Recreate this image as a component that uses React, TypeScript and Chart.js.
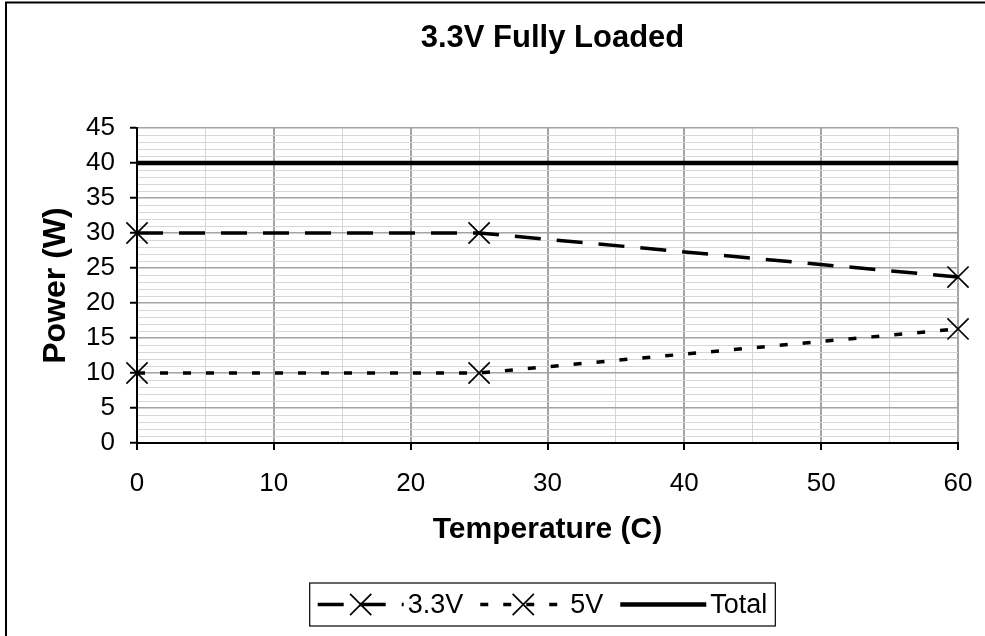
import React, { useEffect, useRef } from "react";
import { Chart, registerables } from "chart.js";

Chart.register(...registerables);

const FONT = '"Liberation Sans", Arial, Helvetica, sans-serif';

const TITLE = "3.3V Fully Loaded";
const X_TITLE = "Temperature (C)";
const Y_TITLE = "Power (W)";

const temperatures = [0, 25, 60];
const power33V = [30, 30, 23.7];
const power5V = [10, 10, 16.3];
const powerTotal = [40, 40, 40];

const seriesLabels = ["3.3V", "5V", "Total"];

const X_MIN = 0;
const X_MAX = 60;
const Y_MIN = 0;
const Y_MAX = 45;

const toPoints = (ys: number[]) => temperatures.map((x, i) => ({ x, y: ys[i] }));

const framePlugin = {
  id: "excelFrame",
  afterDraw(chart: any) {
    const ctx = chart.ctx as CanvasRenderingContext2D;
    const area = chart.chartArea;
    ctx.save();
    // outer chart frame
    ctx.strokeStyle = "#000";
    ctx.lineWidth = 2;
    ctx.strokeRect(6, 2.5, 1000, 700);

    // title
    ctx.fillStyle = "#000";
    ctx.font = `bold 31px ${FONT}`;
    ctx.textAlign = "center";
    ctx.textBaseline = "alphabetic";
    ctx.fillText(TITLE, (area.left + area.right) / 2 + 5, 47);

    // legend
    const fontSize = 27;
    ctx.font = `${fontSize}px ${FONT}`;
    const lineLen = 86;
    const textGap = 4;
    const itemGap = 17;
    const pad = 8;
    const datasets = chart.data.datasets;
    const widths = datasets.map((d: any) => ctx.measureText(d.label).width);
    const inner =
      widths.reduce((s: number, w: number) => s + lineLen + textGap + w, 0) +
      itemGap * (datasets.length - 1);
    const cx = (area.left + area.right) / 2 - 5;
    const boxLeft = cx - inner / 2 - pad;
    const boxTop = 583;
    const boxH = 43;
    const cy = boxTop + boxH / 2;
    ctx.strokeStyle = "#000";
    ctx.lineWidth = 1.2;
    ctx.strokeRect(boxLeft, boxTop, inner + pad * 2, boxH);

    let x = boxLeft + pad;
    datasets.forEach((d: any, i: number) => {
      ctx.save();
      ctx.strokeStyle = d.borderColor;
      ctx.lineWidth = d.borderWidth;
      ctx.setLineDash(d.borderDash || []);
      ctx.beginPath();
      ctx.moveTo(x, cy);
      ctx.lineTo(x + lineLen, cy);
      ctx.stroke();
      ctx.setLineDash([]);
      if (d.pointRadius > 0) {
        const r = d.pointRadius;
        const mx = x + lineLen / 2;
        ctx.lineWidth = d.pointBorderWidth;
        ctx.beginPath();
        const k = r * Math.SQRT1_2;
        ctx.moveTo(mx - k, cy - k);
        ctx.lineTo(mx + k, cy + k);
        ctx.moveTo(mx - k, cy + k);
        ctx.lineTo(mx + k, cy - k);
        ctx.stroke();
      }
      ctx.restore();
      ctx.fillStyle = "#000";
      ctx.textAlign = "left";
      ctx.textBaseline = "middle";
      ctx.fillText(d.label, x + lineLen + textGap, cy + 1);
      x += lineLen + textGap + widths[i] + itemGap;
    });
    ctx.restore();
  },
};

export default function App() {
  const ref = useRef<HTMLCanvasElement | null>(null);

  useEffect(() => {
    if (!ref.current) return;
    Chart.defaults.font.family = FONT;
    Chart.defaults.color = "#000";

    const majorY = (v: number) => v % 5 === 0;
    const majorX = (v: number) => v % 10 === 0;

    const chart = new Chart(ref.current, {
      type: "line",
      data: {
        datasets: [
          {
            label: seriesLabels[0],
            data: toPoints(power33V),
            borderColor: "#000",
            backgroundColor: "#000",
            borderWidth: 3.5,
            borderDash: [26, 16],
            pointStyle: "crossRot",
            pointRadius: 15,
            pointHoverRadius: 15,
            pointBorderWidth: 1.7,
            pointBorderColor: "#000",
            tension: 0,
            clip: false as any,
          },
          {
            label: seriesLabels[1],
            data: toPoints(power5V),
            borderColor: "#000",
            backgroundColor: "#000",
            borderWidth: 3.5,
            borderDash: [8, 15],
            pointStyle: "crossRot",
            pointRadius: 15,
            pointHoverRadius: 15,
            pointBorderWidth: 1.7,
            pointBorderColor: "#000",
            tension: 0,
            clip: false as any,
          },
          {
            label: seriesLabels[2],
            data: toPoints(powerTotal),
            borderColor: "#000",
            backgroundColor: "#000",
            borderWidth: 4.5,
            pointRadius: 0,
            pointHoverRadius: 0,
            pointBorderWidth: 0,
            tension: 0,
            clip: false as any,
          },
        ],
      },
      options: {
        animation: false,
        responsive: false,
        events: [],
        layout: { padding: { left: 0, right: 27, top: 128, bottom: 0 } },
        plugins: {
          legend: { display: false },
          title: { display: false },
          tooltip: { enabled: false },
        },
        scales: {
          x: {
            type: "linear",
            min: X_MIN,
            max: X_MAX,
            afterFit: (scale: any) => {
              scale.height = 636 - 443;
              scale.paddingLeft = 0;
              scale.paddingRight = 0;
            },
            border: { display: true, color: "#000", width: 2 },
            grid: {
              color: (c: any) => (majorX(c.tick.value) ? "#a4a4a4" : "#d6d6d6"),
              lineWidth: (c: any) => (majorX(c.tick.value) ? 2 : 1),
              tickColor: (c: any) => (majorX(c.tick.value) ? "#000" : "rgba(0,0,0,0)"),
              tickWidth: 2,
              tickLength: 7,
              drawTicks: true,
            },
            ticks: {
              stepSize: 5,
              autoSkip: false,
              maxRotation: 0,
              minRotation: 0,
              padding: 18,
              font: { size: 26 },
              color: "#000",
              callback: (v: any) => (majorX(Number(v)) ? String(v) : ""),
            },
            title: {
              display: true,
              text: X_TITLE,
              font: { size: 30, weight: "bold" },
              color: "#000",
              padding: { top: 0, bottom: 88 },
            },
          },
          y: {
            type: "linear",
            min: Y_MIN,
            max: Y_MAX,
            afterFit: (scale: any) => {
              scale.width = 137;
              scale.paddingTop = 0;
              scale.paddingBottom = 0;
            },
            border: { display: true, color: "#000", width: 2 },
            grid: {
              color: (c: any) => (majorY(c.tick.value) ? "#a4a4a4" : "#d6d6d6"),
              lineWidth: (c: any) => (majorY(c.tick.value) ? 1.5 : 1),
              tickColor: (c: any) => (majorY(c.tick.value) ? "#000" : "rgba(0,0,0,0)"),
              tickWidth: 2,
              tickLength: 7,
              drawTicks: true,
            },
            ticks: {
              stepSize: 1,
              autoSkip: false,
              padding: 15,
              font: { size: 26 },
              color: "#000",
              callback: (v: any) => (majorY(Number(v)) ? String(v) : ""),
            },
            title: {
              display: true,
              text: Y_TITLE,
              font: { size: 32, weight: "bold" },
              color: "#000",
              padding: { top: 37, bottom: 0 },
            },
          },
        },
      },
      plugins: [framePlugin],
    });

    return () => {
      chart.destroy();
    };
  }, []);

  return (
    <div style={{ position: "absolute", left: 0, top: 0, width: 985, height: 636, background: "#fff" }}>
      <canvas ref={ref} width={985} height={636} style={{ display: "block", width: 985, height: 636 }} />
    </div>
  );
}
